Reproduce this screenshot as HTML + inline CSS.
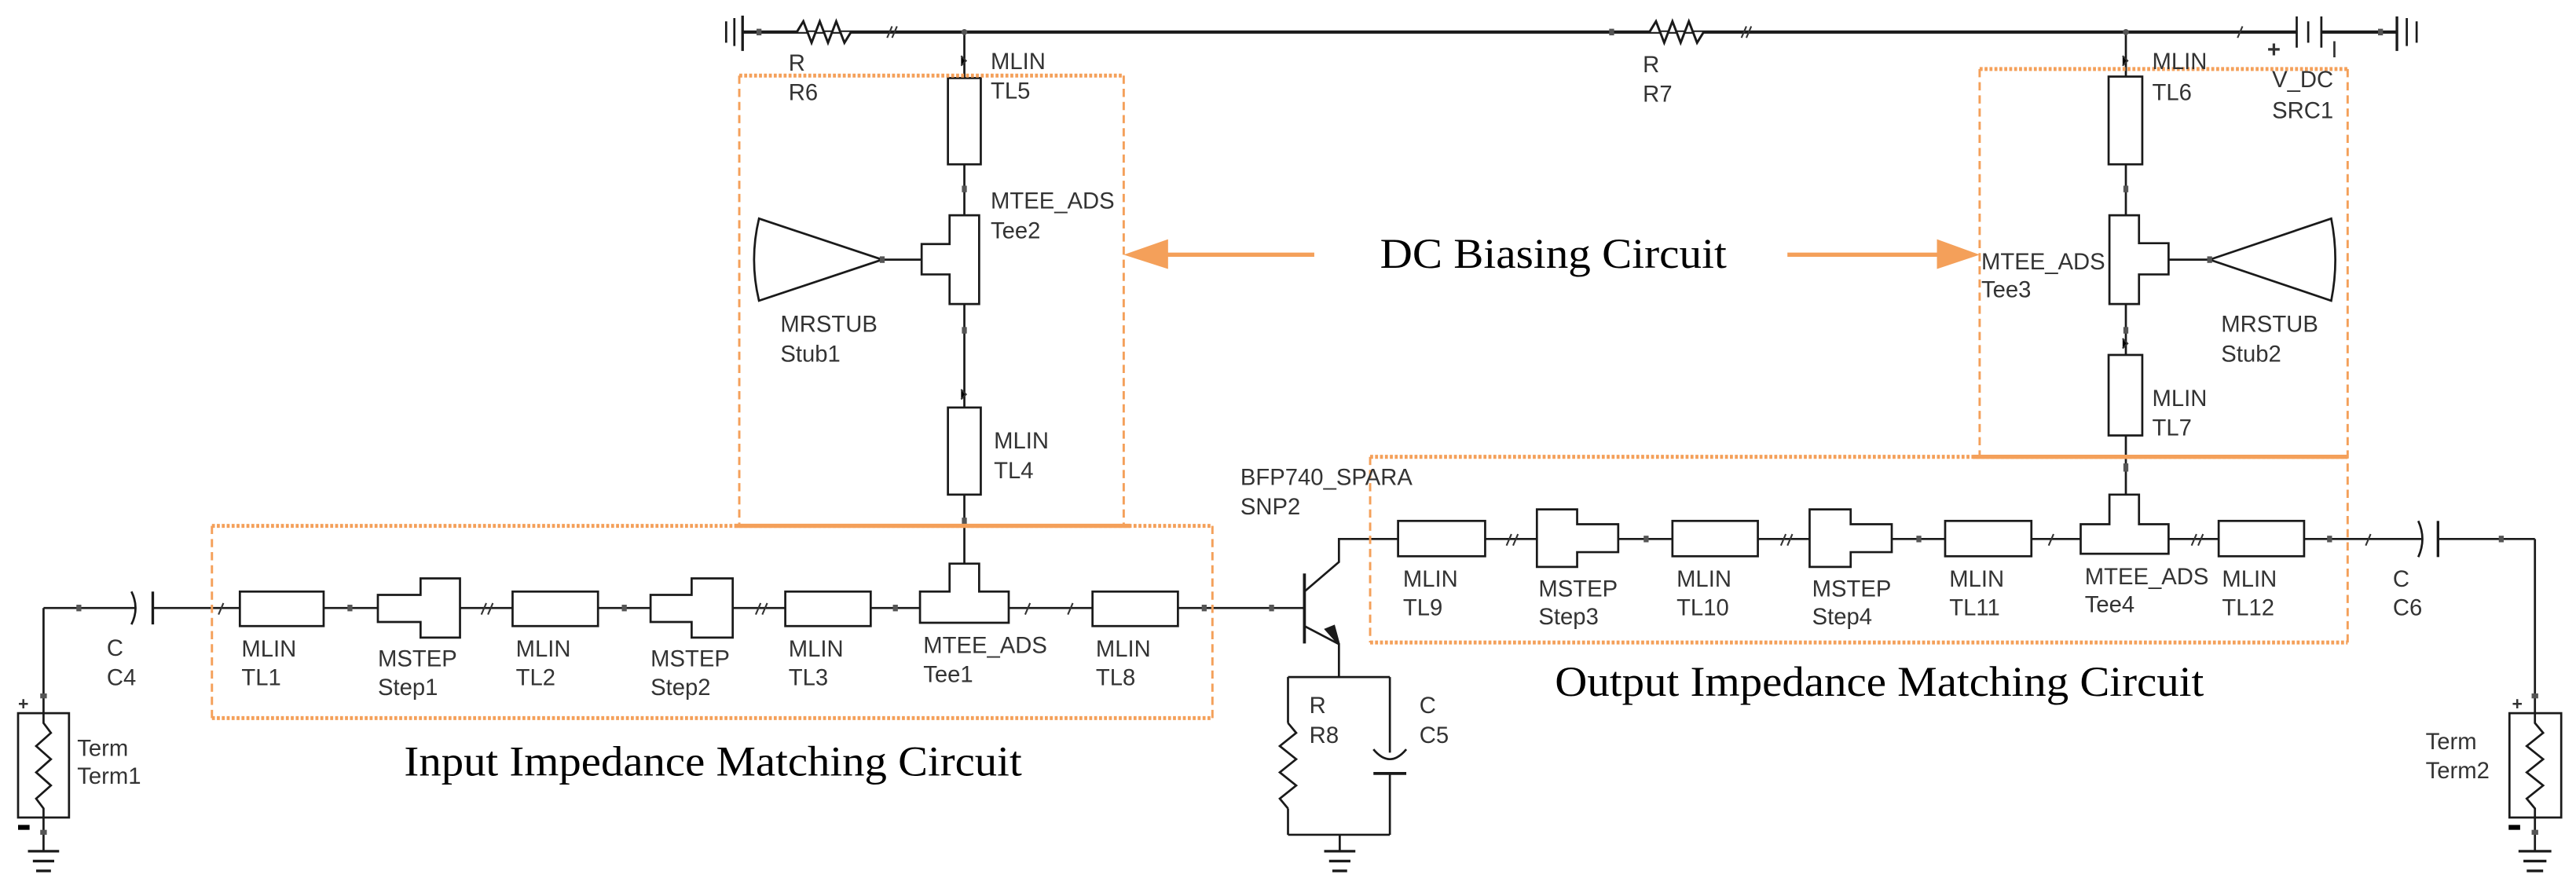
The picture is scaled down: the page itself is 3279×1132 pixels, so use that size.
<!DOCTYPE html>
<html><head><meta charset="utf-8"><style>html,body{margin:0;padding:0;background:#fff}svg{display:block}</style></head><body>
<svg width="3279" height="1132" viewBox="0 0 1568 541" preserveAspectRatio="none" xmlns="http://www.w3.org/2000/svg">
<rect width="1568" height="541" fill="#fff"/>
<g stroke="#1a1a1a" stroke-width="1.3" fill="none">
<!-- top rail -->
<line x1="452" y1="19.5" x2="1398" y2="19.5" stroke-width="2"/>
<line x1="1413" y1="19.5" x2="1459" y2="19.5" stroke-width="2"/>
<line x1="442" y1="13" x2="442" y2="26"/><line x1="447" y1="11" x2="447" y2="28"/><line x1="452" y1="9.5" x2="452" y2="31" stroke-width="1.6"/>
<polyline points="485,19.5 489,13 494,26 499,13 504,26 509,13 514,26 518,19.5" fill="#fff" stroke-width="1.4"/>
<polyline points="1004,19.5 1008,13 1013,26 1018,13 1023,26 1028,13 1033,26 1037,19.5" fill="#fff" stroke-width="1.4"/>
<line x1="1398" y1="10" x2="1398" y2="29"/><line x1="1405" y1="13" x2="1405" y2="26"/><line x1="1413" y1="10" x2="1413" y2="29"/>
<line x1="1459" y1="10" x2="1459" y2="31" stroke-width="1.6"/><line x1="1465" y1="11" x2="1465" y2="28"/><line x1="1471" y1="13" x2="1471" y2="26"/>
<!-- left DC column -->
<line x1="587" y1="19.5" x2="587" y2="47.5"/>
<line x1="587" y1="100" x2="587" y2="131"/>
<line x1="587" y1="185" x2="587" y2="248"/>
<line x1="587" y1="301" x2="587" y2="343"/>
<rect x="577" y="47.5" width="20" height="52.5" fill="#fff"/>
<rect x="577" y="248" width="20" height="53" fill="#fff"/>
<path d="M578,131 H596 V185 H578 V167 H561 V148.5 H578 Z" fill="#fff"/>
<line x1="537" y1="158" x2="561" y2="158"/>
<path d="M537,158 L462,133 Q456,158 462,183 Z" fill="#fff"/>
<!-- right DC column -->
<line x1="1294" y1="19.5" x2="1294" y2="46.6"/>
<line x1="1294" y1="100" x2="1294" y2="131"/>
<line x1="1294" y1="185" x2="1294" y2="216"/>
<line x1="1294" y1="265" x2="1294" y2="301"/>
<rect x="1283.5" y="46.6" width="20.5" height="53.4" fill="#fff"/>
<rect x="1283.5" y="216" width="20.5" height="49" fill="#fff"/>
<path d="M1284,131 H1302 V148 H1320 V167 H1302 V185 H1284 Z" fill="#fff"/>
<line x1="1320" y1="158" x2="1345" y2="158"/>
<path d="M1345,158 L1419,133 Q1424,158 1419,183 Z" fill="#fff"/>
<!-- input row -->
<line x1="26.5" y1="370" x2="82" y2="370"/>
<path d="M80,360 Q85,370 80,380" />
<line x1="93" y1="360" x2="93" y2="380" stroke-width="1.6"/>
<line x1="93" y1="370" x2="794" y2="370"/>
<line x1="26.5" y1="370" x2="26.5" y2="434"/>
<rect x="11" y="434" width="31" height="63.5" fill="#fff"/>
<polyline points="26.5,434 26.5,440 31,446 22,454 31,462 22,470 31,478 22,486 26.5,492 26.5,497.5"/>
<line x1="26.5" y1="497.5" x2="26.5" y2="518"/>
<line x1="17" y1="518" x2="36" y2="518" stroke-width="1.6"/><line x1="20" y1="524" x2="33" y2="524" stroke-width="1.6"/><line x1="22" y1="530" x2="31" y2="530" stroke-width="1.6"/>
<rect x="146" y="360" width="51" height="21" fill="#fff"/>
<path d="M230,362 H256 V352 H280 V388 H256 V378.5 H230 Z" fill="#fff"/>
<rect x="312" y="360" width="52" height="21" fill="#fff"/>
<path d="M396,362 H421 V352 H446 V388 H421 V378.5 H396 Z" fill="#fff"/>
<rect x="478" y="360" width="52" height="21" fill="#fff"/>
<path d="M560,360 H578 V343 H596 V360 H614 V379 H560 Z" fill="#fff"/>
<rect x="665" y="360" width="52" height="21" fill="#fff"/>
<!-- transistor -->
<line x1="794" y1="349" x2="794" y2="391.6" stroke-width="1.8"/>
<polyline points="794,360 815,342 815,328 834,328"/>
<polyline points="794,381 815,392 815,412"/>
<path d="M815,392 L807,383 L812,381 Z" fill="#1a1a1a"/>
<line x1="784" y1="412" x2="846" y2="412"/>
<line x1="784" y1="412" x2="784" y2="440"/>
<polyline points="784,440 789,446 779,454 789,462 779,470 789,478 779,486 784,492"/>
<line x1="784" y1="492" x2="784" y2="508"/>
<line x1="846" y1="412" x2="846" y2="458"/>
<path d="M836,456 Q846,468 856,456"/>
<line x1="836" y1="470.7" x2="856" y2="470.7" stroke-width="1.8"/>
<line x1="846" y1="470.7" x2="846" y2="508"/>
<line x1="784" y1="508" x2="846" y2="508"/>
<line x1="815.5" y1="508" x2="815.5" y2="518"/>
<line x1="806" y1="518" x2="825" y2="518" stroke-width="1.6"/><line x1="809" y1="524" x2="822" y2="524" stroke-width="1.6"/><line x1="811" y1="530" x2="820" y2="530" stroke-width="1.6"/>
<!-- output row -->
<line x1="834" y1="328" x2="1474" y2="328"/>
<path d="M1472,317 Q1477,328 1472,339"/>
<line x1="1484" y1="317" x2="1484" y2="339" stroke-width="1.6"/>
<line x1="1484" y1="328" x2="1543" y2="328"/>
<line x1="1543" y1="328" x2="1543" y2="434"/>
<rect x="1527.5" y="434" width="31.5" height="63.5" fill="#fff"/>
<polyline points="1543,434 1543,440 1548,446 1538,454 1548,462 1538,470 1548,478 1538,486 1543,492 1543,497.5"/>
<line x1="1543" y1="497.5" x2="1543" y2="518"/>
<line x1="1533" y1="518" x2="1553" y2="518" stroke-width="1.6"/><line x1="1536" y1="524" x2="1550" y2="524" stroke-width="1.6"/><line x1="1538" y1="530" x2="1548" y2="530" stroke-width="1.6"/>
<rect x="851" y="317" width="53" height="21.5" fill="#fff"/>
<path d="M935.5,310 H960 V319 H985 V336 H960 V345 H935.5 Z" fill="#fff"/>
<rect x="1018" y="317" width="52" height="21.5" fill="#fff"/>
<path d="M1101.5,310 H1126.5 V319 H1151.5 V336 H1126.5 V345 H1101.5 Z" fill="#fff"/>
<rect x="1184" y="317" width="52.5" height="21.5" fill="#fff"/>
<path d="M1266.5,319 H1284 V301 H1302 V319 H1320 V337 H1266.5 Z" fill="#fff"/>
<rect x="1350.5" y="317" width="52" height="21.5" fill="#fff"/>
</g>
<!-- nodes and breaks -->
<g fill="#555">
<rect x="460.5" y="17.5" width="3" height="4"/><rect x="979.5" y="17.5" width="3" height="4"/><rect x="1447.5" y="17.5" width="3" height="4"/>
<circle cx="587" cy="19.5" r="1.8"/><circle cx="1294" cy="19.5" r="1.8"/>
<rect x="535.5" y="156" width="3" height="4"/><rect x="1343.5" y="156" width="3" height="4"/>
<rect x="46.5" y="368" width="3" height="4"/><rect x="211.5" y="368" width="3" height="4"/><rect x="378.5" y="368" width="3" height="4"/><rect x="543.5" y="368" width="3" height="4"/><rect x="731.5" y="368" width="3" height="4"/><rect x="772.5" y="368" width="3" height="4"/>
<rect x="1000.5" y="326" width="3" height="4"/><rect x="1166.5" y="326" width="3" height="4"/><rect x="1416.5" y="326" width="3" height="4"/><rect x="1521" y="326" width="3" height="4"/>
<rect x="585.5" y="315" width="3" height="5"/><rect x="1292.5" y="282" width="3" height="5"/>
<rect x="585.5" y="199" width="3" height="4"/><rect x="1292.5" y="199" width="3" height="4"/>
<rect x="585.5" y="113" width="3" height="4"/><rect x="1292.5" y="113" width="3" height="4"/>
<rect x="24.5" y="422" width="4" height="3"/><rect x="1541" y="422" width="4" height="3"/>
<rect x="24.5" y="505" width="4" height="3"/><rect x="1541" y="505" width="4" height="3"/>
</g>
<g stroke="#333" stroke-width="1">
<path d="M540,23 l3,-7 M543,23 l3,-7"/><path d="M1060,23 l3,-7 M1063,23 l3,-7"/><path d="M1362,23 l3,-7"/>
<path d="M133,374 l3,-7"/><path d="M293,374 l3,-7 M297,374 l3,-7"/><path d="M460,374 l3,-7 M464,374 l3,-7"/><path d="M624,374 l3,-7"/><path d="M650,374 l3,-7"/>
<path d="M917,332 l3,-7 M921,332 l3,-7"/><path d="M1084,332 l3,-7 M1088,332 l3,-7"/><path d="M1247,332 l3,-7"/><path d="M1334,332 l3,-7 M1338,332 l3,-7"/><path d="M1440,332 l3,-7"/>
<path d="M585,34 l3,3 l-3,3"/><path d="M1292,34 l3,3 l-3,3"/><path d="M585,237 l3,3 l-3,3"/><path d="M1292,206 l3,3 l-3,3"/>
</g>
<!-- orange boxes -->
<g fill="none" stroke="#F4A05A">
<line x1="450" y1="46" x2="450" y2="320" stroke-width="1.4" stroke-dasharray="5,3"/>
<line x1="684" y1="46" x2="684" y2="320" stroke-width="1.4" stroke-dasharray="5,3"/>
<line x1="450" y1="46" x2="684" y2="46" stroke-width="2.4" stroke-dasharray="1.8,1.2"/>
<line x1="129" y1="320" x2="129" y2="437" stroke-width="1.4" stroke-dasharray="5,3"/>
<line x1="738" y1="320" x2="738" y2="437" stroke-width="1.4" stroke-dasharray="5,3"/>
<line x1="129" y1="320" x2="738" y2="320" stroke-width="2.4" stroke-dasharray="1.8,1.2"/>
<line x1="129" y1="437" x2="738" y2="437" stroke-width="2.4" stroke-dasharray="1.8,1.2"/>
<line x1="447" y1="320" x2="688" y2="320" stroke-width="2.6"/>
<line x1="1205" y1="42" x2="1205" y2="278" stroke-width="1.4" stroke-dasharray="5,3"/>
<line x1="1429" y1="42" x2="1429" y2="391" stroke-width="1.4" stroke-dasharray="5,3"/>
<line x1="1205" y1="42" x2="1429" y2="42" stroke-width="2.4" stroke-dasharray="1.8,1.2"/>
<line x1="834" y1="278" x2="834" y2="391" stroke-width="1.4" stroke-dasharray="5,3"/>
<line x1="834" y1="278" x2="1429" y2="278" stroke-width="2.4" stroke-dasharray="1.8,1.2"/>
<line x1="834" y1="391" x2="1429" y2="391" stroke-width="2.4" stroke-dasharray="1.8,1.2"/>
<line x1="1201" y1="278" x2="1429" y2="278" stroke-width="2.6"/>
<line x1="706" y1="155" x2="800" y2="155" stroke-width="2.6"/>
<line x1="1088" y1="155" x2="1184" y2="155" stroke-width="2.6"/>
</g>
<path d="M684,155 L711,145.6 L711,163.7 Z" fill="#F4A05A"/>
<path d="M1205,155 L1179,145.6 L1179,163.7 Z" fill="#F4A05A"/>
<!-- labels -->
<g font-family="Liberation Sans, Arial, sans-serif" font-size="14" fill="#333">
<text x="480" y="43">R</text><text x="480" y="61">R6</text>
<text x="603" y="42">MLIN</text><text x="603" y="60">TL5</text>
<text x="603" y="127">MTEE_ADS</text><text x="603" y="145">Tee2</text>
<text x="475" y="202">MRSTUB</text><text x="475" y="220">Stub1</text>
<text x="605" y="273">MLIN</text><text x="605" y="291">TL4</text>
<text x="1000" y="44">R</text><text x="1000" y="62">R7</text>
<text x="1310" y="42">MLIN</text><text x="1310" y="61">TL6</text>
<text x="1383" y="53">V_DC</text><text x="1383" y="72">SRC1</text>
<text x="1380" y="35" font-weight="bold">+</text><text x="1419" y="35">I</text>
<text x="1206" y="164">MTEE_ADS</text><text x="1206" y="181">Tee3</text>
<text x="1352" y="202">MRSTUB</text><text x="1352" y="220">Stub2</text>
<text x="1310" y="247">MLIN</text><text x="1310" y="265">TL7</text>
<text x="755" y="295">BFP740_SPARA</text><text x="755" y="313">SNP2</text>
<text x="65" y="399">C</text><text x="65" y="417">C4</text>
<text x="147" y="399.5">MLIN</text><text x="147" y="417">TL1</text>
<text x="230" y="405.5">MSTEP</text><text x="230" y="423">Step1</text>
<text x="314" y="399.5">MLIN</text><text x="314" y="417">TL2</text>
<text x="396" y="405.5">MSTEP</text><text x="396" y="423">Step2</text>
<text x="480" y="399.5">MLIN</text><text x="480" y="417">TL3</text>
<text x="562" y="397.5">MTEE_ADS</text><text x="562" y="415">Tee1</text>
<text x="667" y="399.5">MLIN</text><text x="667" y="417">TL8</text>
<text x="47" y="460">Term</text><text x="47" y="477">Term1</text>
<text x="797" y="434">R</text><text x="797" y="452">R8</text>
<text x="864" y="434">C</text><text x="864" y="452">C5</text>
<text x="854" y="357">MLIN</text><text x="854" y="374.5">TL9</text>
<text x="936.5" y="363">MSTEP</text><text x="936.5" y="380">Step3</text>
<text x="1020.5" y="357">MLIN</text><text x="1020.5" y="374.5">TL10</text>
<text x="1103" y="363">MSTEP</text><text x="1103" y="380">Step4</text>
<text x="1186.5" y="357">MLIN</text><text x="1186.5" y="374.5">TL11</text>
<text x="1269" y="355.5">MTEE_ADS</text><text x="1269" y="372.5">Tee4</text>
<text x="1352.5" y="357">MLIN</text><text x="1352.5" y="374.5">TL12</text>
<text x="1456.5" y="357">C</text><text x="1456.5" y="374.5">C6</text>
<text x="1476.5" y="456">Term</text><text x="1476.5" y="473.5">Term2</text>
<text x="11" y="432" font-weight="bold" font-size="11">+</text><text x="1529" y="432" font-weight="bold" font-size="11">+</text>
</g>
<rect x="11" y="502" width="7" height="3" fill="#000"/><rect x="1527" y="502" width="7" height="3" fill="#000"/>
<g font-family="Liberation Serif, Times New Roman, serif" font-size="26" fill="#000">
<text x="840" y="163" textLength="211" lengthAdjust="spacingAndGlyphs">DC Biasing Circuit</text>
<text x="246" y="472" textLength="376" lengthAdjust="spacingAndGlyphs">Input Impedance Matching Circuit</text>
<text x="946.5" y="423.5" textLength="395" lengthAdjust="spacingAndGlyphs">Output Impedance Matching Circuit</text>
</g>
</svg>
</body></html>
